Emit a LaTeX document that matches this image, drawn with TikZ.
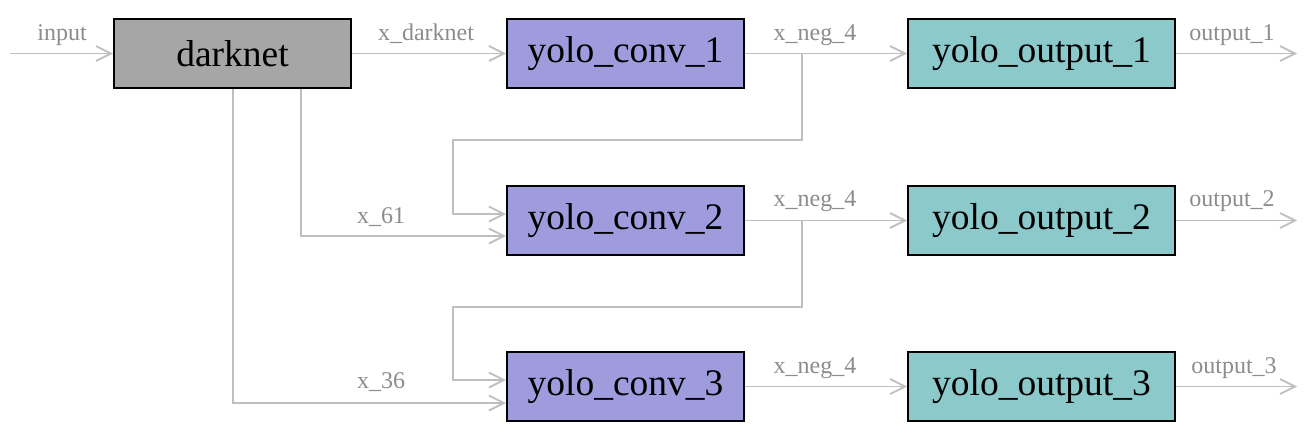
\documentclass[tikz,border=0pt]{standalone}
\usepackage{fontspec}
\setmainfont{Liberation Serif}
\usetikzlibrary{arrows.meta}
\definecolor{edgecol}{HTML}{BFBFBF}
\definecolor{lblcol}{HTML}{8C8C8C}
\definecolor{dkcol}{HTML}{A6A6A6}
\definecolor{convcol}{HTML}{9F9CDE}
\definecolor{outcol}{HTML}{8BC9CB}
\begin{document}
\begin{tikzpicture}[x=1pt,y=-1pt,
 box/.style={draw=black,line width=2pt,minimum width=237pt,minimum height=69pt,inner sep=0pt,font=\fontsize{37.5}{40}\selectfont},
 obox/.style={box,fill=outcol,minimum width=267pt},
 conn/.style={draw=edgecol,line width=1.8pt,-{Straight Barb[length=15pt,width=15pt]}},
 lbl/.style={text=lblcol,font=\fontsize{24}{26}\selectfont,anchor=base,inner sep=0pt}]
\useasboundingbox (0,0) rectangle (1305,434);
% nodes
\node[box,fill=dkcol] (dk) at (232.5,53.5) {darknet};
\node[box,fill=convcol] (c1) at (625.5,53.5) {yolo\_conv\_1};
\node[box,fill=convcol] (c2) at (625.5,220.5) {yolo\_conv\_2};
\node[box,fill=convcol] (c3) at (625.5,386.5) {yolo\_conv\_3};
\node[obox] (o1) at (1041.5,53.5) {yolo\_output\_1};
\node[obox] (o2) at (1041.5,220.5) {yolo\_output\_2};
\node[obox] (o3) at (1041.5,386.5) {yolo\_output\_3};
% free ends and junctions
\coordinate (in) at (10,53.5);
\coordinate (out1) at (1297,53.5);
\coordinate (out2) at (1297,220.5);
\coordinate (out3) at (1297,386.5);
\coordinate (j1) at (802,53.5);
\coordinate (j2) at (802,220.5);
\coordinate (d61) at (301,0);
\coordinate (d36) at (233,0);
% connectors
\draw[conn] (in) -- (dk.west);
\draw[conn] (dk) -- (c1);
\draw[conn] (c1) -- (o1);
\draw[conn] (c2) -- (o2);
\draw[conn] (c3) -- (o3);
\draw[conn] (o1) -- (out1);
\draw[conn] (o2) -- (out2);
\draw[conn] (o3) -- (out3);
\draw[conn] (j1) -- (802,140) -- (453,140) -- (453,214) -- (c2.west |- 0,214);
\draw[conn] (j2) -- (802,307) -- (453,307) -- (453,380) -- (c3.west |- 0,380);
\draw[conn] (dk.south -| d61) -- (301,236) -- (c2.west |- 0,236);
\draw[conn] (dk.south -| d36) -- (233,403) -- (c3.west |- 0,403);
% labels
\node[lbl] (l_in) at (62,40) {input};
\node[lbl] (l_dk) at (426,40) {x\_darknet};
\node[lbl] (l_n1) at (815,40) {x\_neg\_4};
\node[lbl] (l_n2) at (815,206.5) {x\_neg\_4};
\node[lbl] (l_n3) at (815,373) {x\_neg\_4};
\node[lbl] (l_o1) at (1232,40) {output\_1};
\node[lbl] (l_o2) at (1232,206.5) {output\_2};
\node[lbl] (l_o3) at (1234,373) {output\_3};
\node[lbl] (l_61) at (381,223) {x\_61};
\node[lbl] (l_36) at (381,388) {x\_36};
\end{tikzpicture}
\end{document}
